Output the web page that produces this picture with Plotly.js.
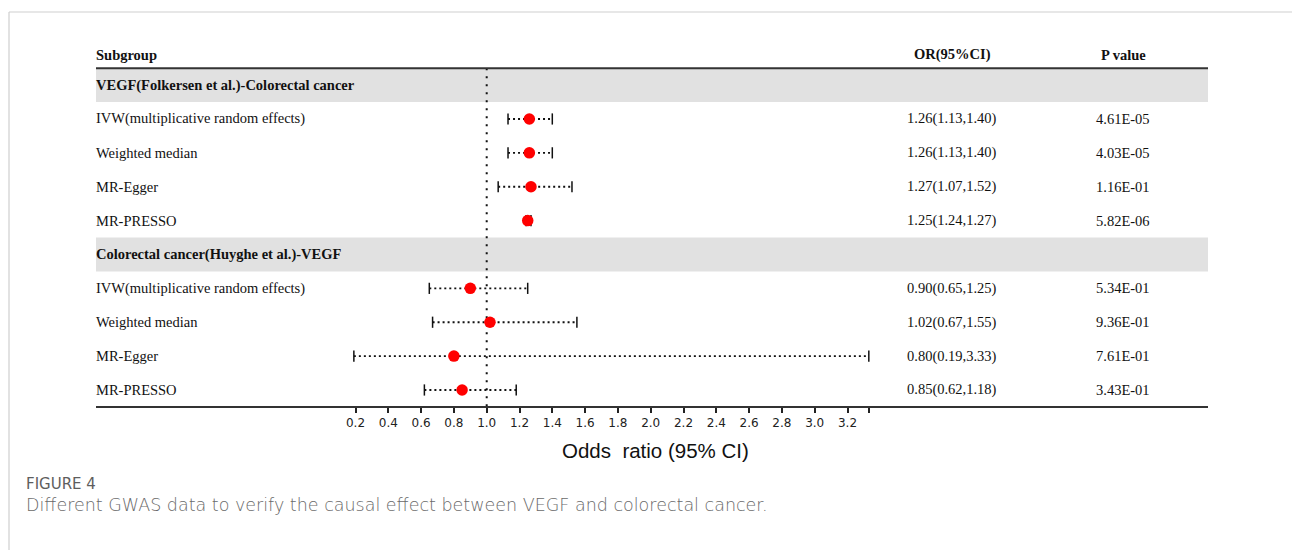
<!DOCTYPE html>
<html>
<head>
<meta charset="utf-8">
<script src="https://cdn.plot.ly/plotly-3.0.1.min.js"></script>
<style>
html,body{margin:0;padding:0;background:#fff;}
#chart{width:1292px;height:550px;}
</style>
</head>
<body>
<div id="chart"></div>
<script>
// ---- data ----
const headerLabels = ["Subgroup", "OR(95%CI)", "P value"];
const groupTitles = ["VEGF(Folkersen et al.)-Colorectal cancer", "Colorectal cancer(Huyghe et al.)-VEGF"];
const methods = ["IVW(multiplicative random effects)", "Weighted median", "MR-Egger", "MR-PRESSO"];

const g1OR = [1.26, 1.26, 1.27, 1.25];
const g1Low = [1.13, 1.13, 1.07, 1.24];
const g1High = [1.40, 1.40, 1.52, 1.27];
const g1P = ["4.61E-05", "4.03E-05", "1.16E-01", "5.82E-06"];

const g2OR = [0.90, 1.02, 0.80, 0.85];
const g2Low = [0.65, 0.67, 0.19, 0.62];
const g2High = [1.25, 1.55, 3.33, 1.18];
const g2P = ["5.34E-01", "9.36E-01", "7.61E-01", "3.43E-01"];

const tickValues = [0.2, 0.4, 0.6, 0.8, 1.0, 1.2, 1.4, 1.6, 1.8, 2.0, 2.2, 2.4, 2.6, 2.8, 3.0, 3.2, 3.33];
const tickLabels = ["0.2", "0.4", "0.6", "0.8", "1.0", "1.2", "1.4", "1.6", "1.8", "2.0", "2.2", "2.4", "2.6", "2.8", "3.0", "3.2", ""];

const axisTitle = "Odds\u00A0 ratio (95% CI)";
const figureLabel = "FIGURE 4";
const captionText = "Different GWAS data to verify the causal effect between VEGF and colorectal cancer.";

// ---- assemble rows ----
const W = 1292, H = 550;
const px = v => v / W;
const py = v => 1 - v / H;

const rowsY = [], rowsOR = [], rowsLo = [], rowsHi = [];
const groups = [[g1OR, g1Low, g1High, g1P], [g2OR, g2Low, g2High, g2P]];
const annotations = [];
const serif = "Liberation Serif, Times New Roman, serif";
const textColor = "#111";
const colLeft = 94, colOR = 952, colP = 1123;

// header
const headerRow = -0.89;
[[headerLabels[0], colLeft, "left"], [headerLabels[1], colOR, "center"], [headerLabels[2], colP, "center"]].forEach(h => {
  annotations.push({xref: "paper", yref: "y", x: px(h[1]), y: headerRow, xanchor: h[2], yanchor: "middle",
    text: "<b>" + h[0] + "</b>", showarrow: false, font: {family: serif, size: 14.5, color: textColor}});
});

groups.forEach((g, gi) => {
  const base = gi * 5;
  annotations.push({xref: "paper", yref: "y", x: px(colLeft), y: base, xanchor: "left", yanchor: "middle",
    text: "<b>" + groupTitles[gi] + "</b>", showarrow: false, font: {family: serif, size: 14.5, color: textColor}});
  methods.forEach((m, mi) => {
    const r = base + 1 + mi;
    rowsY.push(r); rowsOR.push(g[0][mi]); rowsLo.push(g[1][mi]); rowsHi.push(g[2][mi]);
    annotations.push({xref: "paper", yref: "y", x: px(colLeft), y: r, xanchor: "left", yanchor: "middle",
      text: m, showarrow: false, font: {family: serif, size: 14.5, color: textColor}});
    annotations.push({xref: "paper", yref: "y", x: px(colOR), y: r, xanchor: "center", yanchor: "middle",
      text: g[0][mi].toFixed(2) + "(" + g[1][mi].toFixed(2) + "," + g[2][mi].toFixed(2) + ")",
      showarrow: false, font: {family: serif, size: 14.5, color: textColor}});
    annotations.push({xref: "paper", yref: "y", x: px(colP), y: r, xanchor: "center", yanchor: "middle",
      text: g[3][mi], showarrow: false, font: {family: serif, size: 14.5, color: textColor}});
  });
});

// axis title & caption
annotations.push({xref: "paper", yref: "paper", x: px(655), y: py(450), xanchor: "center", yanchor: "middle",
  text: axisTitle, showarrow: false, font: {family: "Liberation Sans, Arial, sans-serif", size: 20.5, color: "#111"}});
annotations.push({xref: "paper", yref: "paper", x: px(24), y: py(484), xanchor: "left", yanchor: "middle",
  text: figureLabel, showarrow: false, font: {family: "DejaVu Sans, sans-serif", size: 15, color: "#5e5e5e"}});
annotations.push({xref: "paper", yref: "paper", x: px(24), y: py(505), xanchor: "left", yanchor: "middle",
  text: captionText, showarrow: false, font: {family: "DejaVu Sans, sans-serif", size: 17.5, color: "#6a6a6a", weight: 300}});

// ---- traces ----
const ciX = [], ciY = [];
rowsY.forEach((r, i) => { ciX.push(rowsLo[i], rowsHi[i], null); ciY.push(r, r, null); });
const capX = rowsLo.concat(rowsHi), capY = rowsY.concat(rowsY);

const traces = [
  {type: "scatter", mode: "lines", x: ciX, y: ciY, hoverinfo: "skip", cliponaxis: false,
   line: {color: "#111", width: 1.8, dash: "2px,3px"}},
  {type: "scatter", mode: "markers", x: capX, y: capY, hoverinfo: "skip", cliponaxis: false,
   marker: {symbol: "line-ns-open", size: 8, color: "#111", line: {color: "#111", width: 1.5}}},
  {type: "scatter", mode: "markers", x: rowsOR, y: rowsY, cliponaxis: false,
   marker: {symbol: "circle", size: 11.5, color: "#ff0000", line: {width: 0}}}
];

// ---- geometry ----
// x: 1.0 at 486.7px, 164 px per unit
const xr = [0.18, 3.34];
const xDom = [px(486.7 + (xr[0] - 1) * 164), px(486.7 + (xr[1] - 1) * 164)];
// y: row i at 85.1 + 33.875*i px
const yTop = (0 - 85.1) / 33.875, yBot = (H - 85.1) / 33.875;

const shapes = [
  // card border
  {type: "line", xref: "paper", yref: "paper", x0: px(9), x1: px(1300), y0: py(12), y1: py(12), line: {color: "#cfcfcf", width: 1.2}},
  {type: "line", xref: "paper", yref: "paper", x0: px(9), x1: px(9), y0: py(12), y1: py(560), line: {color: "#cfcfcf", width: 1.2}},
  // bands
  {type: "rect", xref: "paper", yref: "y", x0: px(96), x1: px(1208), y0: -0.5, y1: 0.5, fillcolor: "#e1e1e1", line: {width: 0}, layer: "below"},
  {type: "rect", xref: "paper", yref: "y", x0: px(96), x1: px(1208), y0: 4.5, y1: 5.5, fillcolor: "#e1e1e1", line: {width: 0}, layer: "below"},
  // table rules
  {type: "line", xref: "paper", yref: "y", x0: px(96), x1: px(1208), y0: -0.5, y1: -0.5, line: {color: "#333", width: 2}},
  {type: "line", xref: "paper", yref: "y", x0: px(96), x1: px(1208), y0: 9.5, y1: 9.5, line: {color: "#333", width: 2}},
  // null line at OR = 1
  {type: "line", xref: "x", yref: "y", x0: 1, x1: 1, y0: -0.5, y1: 9.5, line: {color: "#111", width: 2, dash: "2px,6px"}, layer: "below"}
];

const layout = {
  width: W, height: H,
  margin: {l: 0, r: 0, t: 0, b: 0, pad: 0},
  paper_bgcolor: "#ffffff", plot_bgcolor: "rgba(0,0,0,0)",
  showlegend: false,
  xaxis: {domain: xDom, range: xr, anchor: "free", position: 1 - 406.9 / H,
    tickmode: "array", tickvals: tickValues, ticktext: tickLabels,
    ticks: "outside", ticklen: 5, tickwidth: 2, tickcolor: "#222",
    tickfont: {family: "DejaVu Sans, sans-serif", size: 12, color: "#222"},
    showline: false, showgrid: false, zeroline: false, fixedrange: true},
  yaxis: {domain: [0, 1], range: [yBot, yTop], visible: false, showgrid: false, zeroline: false, fixedrange: true},
  shapes: shapes,
  annotations: annotations
};

Plotly.newPlot("chart", traces, layout, {displayModeBar: false, staticPlot: true});
</script>
</body>
</html>
